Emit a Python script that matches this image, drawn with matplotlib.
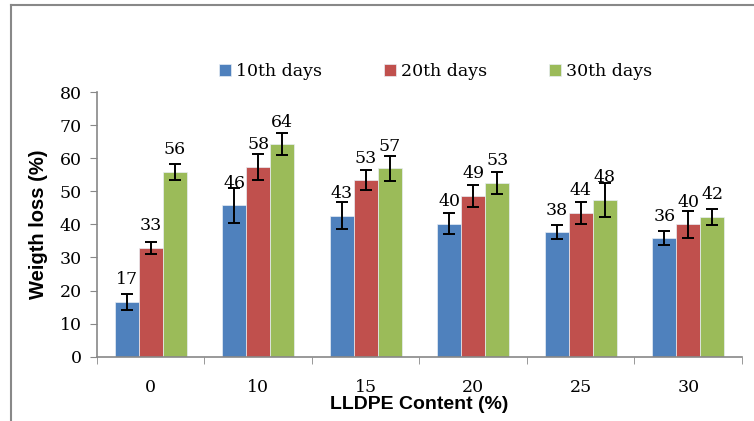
import numpy as np
import matplotlib.pyplot as plt
from matplotlib.lines import Line2D

# LLDPE content categories and weight loss (%) per sampling day
categories = ["0", "10", "15", "20", "25", "30"]
series_names = ["10th days", "20th days", "30th days"]
day10 = [16.5, 45.8, 42.7, 40.2, 37.6, 35.8]
day20 = [32.9, 57.4, 53.4, 48.7, 43.5, 40.0]
day30 = [55.9, 64.3, 57.0, 52.6, 47.5, 42.3]
err10 = [2.3, 5.4, 4.0, 3.2, 2.1, 2.1]
err20 = [1.7, 4.0, 3.0, 3.3, 3.4, 4.1]
err30 = [2.4, 3.3, 3.7, 3.4, 5.2, 2.5]
labels10 = [17, 46, 43, 40, 38, 36]
labels20 = [33, 58, 53, 49, 44, 40]
labels30 = [56, 64, 57, 53, 48, 42]

colors = ["#4F81BD", "#C0504D", "#9BBB59"]
serif = "DejaVu Serif"
sans = "Liberation Sans"

fig = plt.figure(figsize=(7.54, 4.21), dpi=100)
ax = fig.add_axes([0.1286, 0.1532, 0.8554, 0.6271])

x = np.arange(len(categories))
w = 0.223
values = [day10, day20, day30]
errors = [err10, err20, err30]
labels = [labels10, labels20, labels30]

for i in range(3):
    pos = x + (i - 1) * w
    ax.bar(pos, values[i], w, color=colors[i], edgecolor="#e8eef5", linewidth=0.5,
           label=series_names[i], zorder=2)
    ax.errorbar(pos, values[i], yerr=errors[i], fmt="none", ecolor="black",
                elinewidth=1.4, capsize=4.5, capthick=1.4, zorder=3)
    for xp, v, lab in zip(pos, values[i], labels[i]):
        ax.annotate(str(lab), (xp, v), xytext=(0, 16), textcoords="offset points",
                    ha="center", va="center", fontsize=12.5, family=serif, zorder=4)

ax.set_ylim(0, 80)
ax.set_xlim(-0.5, len(categories) - 0.5)
ax.set_yticks(range(0, 81, 10))
ax.set_xticks(x)
ax.set_xticklabels(categories)
ax.set_xticks(np.arange(-0.5, len(categories)), minor=True)
ax.tick_params(axis="x", which="major", length=0, pad=16)
ax.tick_params(axis="x", which="minor", length=5, color="#888888", direction="out")
ax.tick_params(axis="y", length=5, color="#888888", direction="out", pad=6)
for lab in ax.get_xticklabels() + ax.get_yticklabels():
    lab.set_family(serif)
    lab.set_fontsize(12.5)

for s in ["top", "right"]:
    ax.spines[s].set_visible(False)
for s in ["left", "bottom"]:
    ax.spines[s].set_color("#888888")
    ax.spines[s].set_linewidth(1.2)

ax.set_ylabel("Weigth loss (%)", family=sans, fontweight="bold", fontsize=14.5, labelpad=8)
ax.set_xlabel("LLDPE Content (%)", family=sans, fontweight="bold", fontsize=14, labelpad=0)

fig.legend(loc="center", bbox_to_anchor=(0.578, 0.829), ncol=3, frameon=False,
           prop={"family": serif, "size": 12.5}, handlelength=0.7, handleheight=0.7,
           handletextpad=0.3, columnspacing=3.55)

# outer chart frame (top and left edges visible)
fig.add_artist(Line2D([0.0146, 1.0], [0.988, 0.988], color="#888888", linewidth=1.5,
                      transform=fig.transFigure))
fig.add_artist(Line2D([0.0146, 0.0146], [0.0, 0.988], color="#888888", linewidth=1.5,
                      transform=fig.transFigure))

fig.savefig("out.png", dpi=100)
